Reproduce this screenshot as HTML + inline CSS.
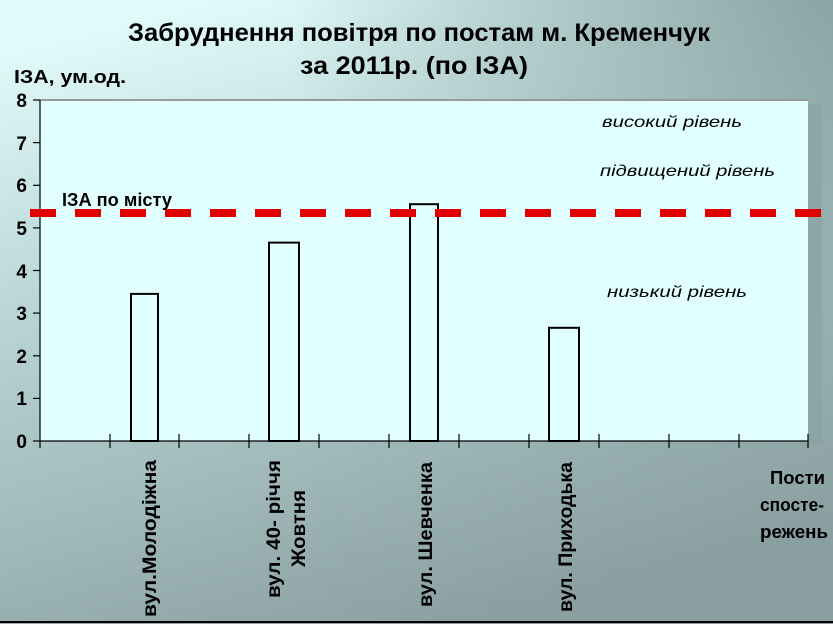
<!DOCTYPE html>
<html><head><meta charset="utf-8"><style>
html,body{margin:0;padding:0;}
body{width:833px;height:624px;overflow:hidden;}
svg text{font-family:"Liberation Sans","DejaVu Sans",sans-serif;}
</style></head><body>
<svg width="833" height="624" viewBox="0 0 833 624" xmlns="http://www.w3.org/2000/svg">
<defs>
<linearGradient id="bg" x1="0.2" y1="0" x2="0.55" y2="1">
<stop offset="0" stop-color="#e2fbfb"/>
<stop offset="0.4" stop-color="#b8d4d4"/>
<stop offset="1" stop-color="#8ba0a2"/>
</linearGradient>
<linearGradient id="ov" x1="0" y1="0" x2="1" y2="0">
<stop offset="0.35" stop-color="#7f9898" stop-opacity="0"/>
<stop offset="1" stop-color="#7f9898" stop-opacity="0.85"/>
</linearGradient>
<linearGradient id="ovb" x1="0" y1="0" x2="0" y2="1">
<stop offset="0" stop-color="#fff" stop-opacity="1"/>
<stop offset="0.6" stop-color="#fff" stop-opacity="0.3"/>
<stop offset="1" stop-color="#fff" stop-opacity="0"/>
</linearGradient>
<mask id="m"><rect width="833" height="624" fill="url(#ovb)"/></mask>
</defs>
<rect width="833" height="624" fill="url(#bg)"/>
<rect width="833" height="624" fill="url(#ov)" mask="url(#m)"/>
<rect x="808" y="104" width="14" height="340" fill="#8aa2a3" opacity="0.7"/>
<rect x="40" y="100" width="768" height="341" fill="#e2ffff"/>
<line x1="40" y1="100" x2="808" y2="100" stroke="#999" stroke-width="2"/>
<line x1="40" y1="441" x2="808" y2="441" stroke="#000" stroke-width="1.2"/>
<line x1="40" y1="100" x2="40" y2="441" stroke="#000" stroke-width="1.2"/>
<g stroke="#000" stroke-width="1.2">
<line x1="33" y1="100" x2="40" y2="100"/><line x1="33" y1="142.6" x2="40" y2="142.6"/>
<line x1="33" y1="185.3" x2="40" y2="185.3"/><line x1="33" y1="227.9" x2="40" y2="227.9"/>
<line x1="33" y1="270.5" x2="40" y2="270.5"/><line x1="33" y1="313.1" x2="40" y2="313.1"/>
<line x1="33" y1="355.8" x2="40" y2="355.8"/><line x1="33" y1="398.4" x2="40" y2="398.4"/>
<line x1="33" y1="441" x2="40" y2="441"/>
<line x1="40" y1="441" x2="40" y2="448"/><line x1="110" y1="434" x2="110" y2="448"/>
<line x1="179" y1="434" x2="179" y2="448"/><line x1="249" y1="434" x2="249" y2="448"/>
<line x1="319" y1="434" x2="319" y2="448"/><line x1="389" y1="434" x2="389" y2="448"/>
<line x1="459" y1="434" x2="459" y2="448"/><line x1="529" y1="434" x2="529" y2="448"/>
<line x1="599" y1="434" x2="599" y2="448"/><line x1="669" y1="434" x2="669" y2="448"/>
<line x1="739" y1="434" x2="739" y2="448"/><line x1="808" y1="434" x2="808" y2="448"/>
</g>
<g fill="none" stroke="#000" stroke-width="2">
<rect x="131" y="293.9" width="27" height="147.1"/>
<rect x="269" y="242.6" width="30" height="198.4"/>
<rect x="410" y="204.2" width="28" height="236.8"/>
<rect x="549" y="327.8" width="30" height="113.2"/>
</g>
<line x1="30" y1="213" x2="833" y2="213" stroke="#e00000" stroke-width="8" stroke-dasharray="26 19"/>
<g font-size="19" font-weight="bold" text-anchor="end">
<text x="27" y="107">8</text><text x="27" y="150">7</text><text x="27" y="192">6</text>
<text x="27" y="235">5</text><text x="27" y="278">4</text><text x="27" y="320">3</text>
<text x="27" y="363">2</text><text x="27" y="405">1</text><text x="27" y="448">0</text>
</g>
<text x="14" y="83" font-size="18" font-weight="bold" textLength="112" lengthAdjust="spacingAndGlyphs">ІЗА, ум.од.</text>
<text x="62" y="206" font-size="18" font-weight="bold" textLength="110" lengthAdjust="spacingAndGlyphs">ІЗА по місту</text>
<text x="128" y="41" font-size="25" font-weight="bold" textLength="582" lengthAdjust="spacingAndGlyphs">Забруднення повітря по постам м. Кременчук</text>
<text x="300" y="74" font-size="25" font-weight="bold" textLength="228" lengthAdjust="spacingAndGlyphs">за  2011р. (по ІЗА)</text>
<g font-size="16" font-style="italic">
<text x="602" y="127" textLength="140" lengthAdjust="spacingAndGlyphs">високий рівень</text>
<text x="600" y="176" textLength="175" lengthAdjust="spacingAndGlyphs">підвищений рівень</text>
<text x="607" y="297" textLength="140" lengthAdjust="spacingAndGlyphs">низький рівень</text>
</g>
<g font-size="19" font-weight="bold">
<text transform="translate(156,617) rotate(-90)" textLength="157" lengthAdjust="spacingAndGlyphs">вул.Молодіжна</text>
<text transform="translate(280,598) rotate(-90)" textLength="138" lengthAdjust="spacingAndGlyphs">вул. 40- річчя</text>
<text transform="translate(305,567) rotate(-90)" textLength="77" lengthAdjust="spacingAndGlyphs">Жовтня</text>
<text transform="translate(432,607) rotate(-90)" textLength="145" lengthAdjust="spacingAndGlyphs">вул. Шевченка</text>
<text transform="translate(572,612) rotate(-90)" textLength="150" lengthAdjust="spacingAndGlyphs">вул. Приходька</text>
</g>
<g font-size="18" font-weight="bold">
<text x="770" y="484" textLength="55" lengthAdjust="spacingAndGlyphs">Пости</text>
<text x="760" y="511" textLength="64" lengthAdjust="spacingAndGlyphs">спосте-</text>
<text x="760" y="538" textLength="68" lengthAdjust="spacingAndGlyphs">режень</text>
</g>
<line x1="0" y1="622" x2="833" y2="622" stroke="#000" stroke-width="2"/>
</svg>
</body></html>
